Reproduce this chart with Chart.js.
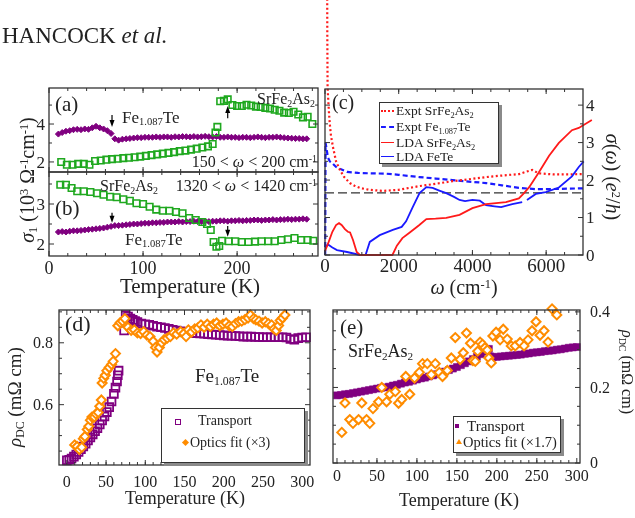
<!DOCTYPE html>
<html><head><meta charset="utf-8">
<script src="https://cdn.jsdelivr.net/npm/chart.js@4/dist/chart.umd.min.js"></script>
<style>
html,body{margin:0;padding:0;background:#fff;}
#wrap{position:relative;width:635px;height:518px;overflow:hidden;font-family:"Liberation Serif","Times New Roman",serif;color:#222;}
canvas{position:absolute;left:0;top:0;}
.t{position:absolute;white-space:nowrap;line-height:1;}
.l{transform:translateY(-50%);}
.r{transform:translate(-100%,-50%);}
.c{transform:translate(-50%,-50%);}
.ru{transform:translate(-50%,-50%) rotate(-90deg);}
.rd{transform:translate(-50%,-50%) rotate(90deg);}
.box{position:absolute;border:1.3px solid #333;background:#fff;box-shadow:3px 3px 0 #8a8a8a;}
sub{font-size:0.62em;vertical-align:-0.28em;line-height:0;}
sup{font-size:0.62em;vertical-align:0.5em;line-height:0;}
.smp{position:absolute;width:13px;height:0;}
</style></head>
<body><div id="wrap">
<canvas id="ca" width="635" height="518"></canvas>
<canvas id="cb" width="635" height="518"></canvas>
<canvas id="cc" width="635" height="518"></canvas>
<canvas id="cd" width="635" height="518"></canvas>
<canvas id="ce" width="635" height="518"></canvas>

<div class="t l" style="left:2px;top:35px;font-size:23px">HANCOCK <i>et al.</i></div>

<div class="t l" style="left:55px;top:104px;font-size:21px">(a)</div>
<div class="t l" style="left:122px;top:117px;font-size:17px">Fe<sub>1.087</sub>Te</div>
<div class="t l" style="left:257px;top:99px;font-size:16px">SrFe<sub>2</sub>As<sub>2</sub></div>
<div class="t r" style="left:317px;top:162px;font-size:16px">150 &lt; <i>ω</i> &lt; 200 cm<sup>-1</sup></div>
<div class="t l" style="left:55px;top:208px;font-size:21px">(b)</div>
<div class="t l" style="left:100px;top:186px;font-size:16px">SrFe<sub>2</sub>As<sub>2</sub></div>
<div class="t r" style="left:317px;top:186px;font-size:16px">1320 &lt; <i>ω</i> &lt; 1420 cm<sup>-1</sup></div>
<div class="t l" style="left:125px;top:239px;font-size:17px">Fe<sub>1.087</sub>Te</div>
<div class="t ru" style="left:27px;top:180px;font-size:20px"><i>σ</i><sub>1</sub> (10<sup>3</sup> Ω<sup>-1</sup>cm<sup>-1</sup>)</div>
<div class="t c" style="left:190px;top:286px;font-size:21px">Temperature (K)</div>

<div class="t l" style="left:332px;top:102px;font-size:20px">(c)</div>
<div class="t c" style="left:464px;top:287px;font-size:20px"><i>ω</i> (cm<sup>-1</sup>)</div>
<div class="t rd" style="left:613px;top:177px;font-size:20px"><i>σ</i>(<i>ω</i>) (<i>e</i><sup>2</sup>/<i>h</i>)</div>
<div class="box" style="left:379px;top:102px;width:118px;height:60px;">
  <div class="smp" style="left:1px;top:7px;border-top:2px dotted #ff1a1a"></div>
  <div class="t l" style="left:16px;top:8px;font-size:13.5px">Expt SrFe<sub>2</sub>As<sub>2</sub></div>
  <div class="smp" style="left:1px;top:23px;border-top:2px dashed #1a1aff"></div>
  <div class="t l" style="left:16px;top:24px;font-size:13.5px">Expt Fe<sub>1.087</sub>Te</div>
  <div class="smp" style="left:1px;top:39px;border-top:1.5px solid #ff1a1a"></div>
  <div class="t l" style="left:16px;top:40px;font-size:13.5px">LDA SrFe<sub>2</sub>As<sub>2</sub></div>
  <div class="smp" style="left:1px;top:53px;border-top:1.5px solid #1a1aff"></div>
  <div class="t l" style="left:16px;top:54px;font-size:13.5px">LDA FeTe</div>
</div>

<div class="t l" style="left:65px;top:324px;font-size:22px">(d)</div>
<div class="t l" style="left:195px;top:375px;font-size:19px">Fe<sub>1.087</sub>Te</div>
<div class="t ru" style="left:14px;top:397px;font-size:19px"><i>ρ</i><sub>DC</sub> (mΩ cm)</div>
<div class="t c" style="left:185px;top:498px;font-size:18px">Temperature (K)</div>
<div class="box" style="left:161px;top:408px;width:142px;height:53px;">
  <div style="position:absolute;left:13px;top:10px;width:4px;height:4px;border:1.5px solid #800080"></div>
  <div class="t l" style="left:36px;top:12px;font-size:14px">Transport</div>
  <div style="position:absolute;left:21px;top:31px;width:5px;height:5px;background:#ff8c00;transform:rotate(45deg)"></div>
  <div class="t l" style="left:28px;top:34px;font-size:14px">Optics fit (×3)</div>
</div>

<div class="t l" style="left:340px;top:327px;font-size:21px">(e)</div>
<div class="t l" style="left:348px;top:351px;font-size:18px">SrFe<sub>2</sub>As<sub>2</sub></div>
<div class="t rd" style="left:627px;top:372px;font-size:16px"><i>ρ</i><sub>DC</sub> (mΩ cm)</div>
<div class="t c" style="left:459px;top:500px;font-size:18px">Temperature (K)</div>
<div class="box" style="left:453px;top:416px;width:106px;height:35px;">
  <div style="position:absolute;left:1px;top:7px;width:4px;height:4px;background:#800080"></div>
  <div class="t l" style="left:13px;top:9px;font-size:15px">Transport</div>
  <div style="position:absolute;left:2px;top:22px;width:0;height:0;border-left:3px solid transparent;border-right:3px solid transparent;border-bottom:5px solid #ff8c00"></div>
  <div class="t l" style="left:9px;top:25px;font-size:14.5px">Optics fit (×1.7)</div>
</div>
</div>

<script>
// ---------- data ----------
// panels (a),(b): Fe1.087Te (purple)
const tempFe = [10,14,18,22,26,30,34,38,42,46,50,54,58,62,66,70,74,78,82,86,90,94,98,102,106,110,114,118,122,126,130,134,138,142,146,150,154,158,162,166,170,174,178,182,186,190,194,198,202,206,210,214,218,222,226,230,234,238,242,246,250,254,258,262,266,270,274];
const sigmaA_Fe = [3.47,3.55,3.62,3.65,3.7,3.72,3.7,3.74,3.72,3.8,3.88,3.8,3.74,3.65,3.5,3.22,3.15,3.2,3.22,3.24,3.26,3.28,3.28,3.3,3.3,3.3,3.32,3.3,3.32,3.32,3.3,3.33,3.32,3.34,3.33,3.32,3.34,3.32,3.33,3.35,3.33,3.32,3.34,3.3,3.3,3.32,3.3,3.3,3.28,3.3,3.3,3.28,3.3,3.32,3.3,3.28,3.3,3.3,3.32,3.3,3.28,3.26,3.25,3.24,3.24,3.22,3.22];
const sigmaB_Fe = [2.3,2.31,2.3,2.32,2.33,2.33,2.34,2.35,2.36,2.37,2.38,2.39,2.4,2.42,2.44,2.46,2.46,2.47,2.48,2.49,2.5,2.5,2.51,2.52,2.52,2.53,2.53,2.54,2.54,2.55,2.55,2.55,2.56,2.55,2.56,2.56,2.57,2.56,2.56,2.57,2.56,2.57,2.57,2.58,2.58,2.57,2.58,2.58,2.59,2.58,2.59,2.59,2.6,2.6,2.59,2.6,2.6,2.61,2.6,2.61,2.61,2.62,2.61,2.62,2.62,2.63,2.62];
// panel (a): SrFe2As2 (green)
const tempA_Sr = [13,19,25,31,37,43,49,55,61,67,73,79,85,91,97,103,109,115,121,127,133,139,145,151,157,163,169,174,177,179,182,186,190,195,200,205,210,215,220,225,230,235,240,245,250,255,260,265,270,275,280];
const sigmaA_Sr = [2.0,1.85,1.85,1.9,1.9,1.85,2.05,2.08,2.12,2.15,2.17,2.2,2.22,2.25,2.28,2.32,2.36,2.4,2.44,2.48,2.52,2.57,2.6,2.65,2.7,2.76,2.82,2.95,3.55,3.85,5.2,5.22,5.3,5.0,4.95,4.95,5.02,4.98,4.92,4.9,4.85,4.82,4.75,4.7,4.6,4.58,4.65,4.5,4.35,4.38,4.0];
// panel (b): SrFe2As2 (green)
const tempB_Sr = [12,18,24,30,37,44,51,58,65,72,79,86,93,100,107,114,121,128,135,142,149,156,163,168,172,175,178,181,184,191,198,205,212,219,226,233,240,247,254,261,268,275,281];
const sigmaB_Sr = [3.48,3.48,3.4,3.32,3.32,3.3,3.27,3.23,3.18,3.17,3.12,3.08,3.02,3.0,2.93,2.86,2.83,2.83,2.8,2.77,2.65,2.6,2.55,2.5,2.35,2.05,1.93,1.95,2.08,2.07,2.07,2.05,2.05,2.06,2.07,2.07,2.07,2.1,2.12,2.15,2.1,2.1,2.08];

// panel (c): sigma(omega)
const wExptSr = [55,62,70,90,108,130,160,216,300,405,520,675,800,945,1200,1570,2000,2570,3000,3460,3900,4370,4800,5270,5450,5620,5800,6200,6600,7000,7500,7950];
const sExptSr = [9,6,4.5,4.1,3.8,3.5,3.2,2.88,2.5,2.27,2.08,1.92,1.85,1.79,1.74,1.71,1.74,1.84,1.9,1.97,2.02,2.08,2.12,2.16,2.22,2.27,2.18,2.15,2.15,2.16,2.16,2.16];
const wExptFe = [5,15,40,80,130,200,300,400,600,900,1200,1660,2000,2560,3000,3460,3900,4370,4800,5260,5700,6160,6600,7000,7500,7950];
const sExptFe = [0,3.0,2.85,2.6,2.5,2.45,2.35,2.3,2.22,2.19,2.18,2.17,2.14,2.08,2.04,2.0,1.96,1.92,1.86,1.79,1.76,1.76,1.77,1.78,1.78,1.78];
const wLdaSr = [0,100,200,300,380,450,540,620,680,760,860,945,1830,1950,2100,2300,2560,2750,3000,3290,3650,4000,4370,4910,5260,5400,5540,5800,6080,6345,6700,6885,7240,7500,7640,7910];
const sLdaSr = [0.1,0.35,0.62,0.8,0.85,0.8,0.69,0.62,0.6,0.4,0.08,0,0,0.25,0.45,0.6,0.8,0.96,0.97,0.99,1.07,1.25,1.36,1.41,1.51,1.65,1.81,2.2,2.65,2.99,3.33,3.39,3.6,3.92,4.19,4.32];
const wLdaFe = [0,80,200,325,600,945,1100,1215,1485,1840,2080,2200,2380,2565,2750,2920,3100,3290,3500,3650,3800,4000,4200,4370,4600,4780,5080,5350,5420,5480,5720,5990,6345,6700,6885,7020,7240,7480,7610,7700];
const sLdaFe = [0.2,0.28,0.2,0.13,0.08,0,0,0.35,0.53,0.67,0.75,0.9,1.28,1.65,1.81,1.79,1.72,1.65,1.55,1.47,1.44,1.47,1.45,1.33,1.3,1.28,1.36,1.41,null,1.47,1.63,1.68,1.8,2.1,2.35,2.5,2.6,2.82,2.98,3.06];
const wRef = [0,7000];
const sRef = [1.66,1.66];

// panel (d): Fe1.087Te resistivity
const tempD_Tr = [0,3,6,9,12,15,18,21,24,27,30,33,36,39,42,45,48,51,54,57,60,62,64,65,66,73,75,78,81,84,87,90,95,100,105,110,115,120,125,130,135,140,145,150,155,160,165,170,175,180,185,190,195,200,205,210,215,220,225,230,235,240,245,250,255,260,265,270,275,280,285,290,295,300,305];
const rhoD_Tr = [0.42,0.422,0.426,0.432,0.439,0.447,0.456,0.465,0.474,0.484,0.494,0.504,0.514,0.524,0.536,0.549,0.562,0.576,0.592,0.61,0.635,0.655,0.675,0.695,0.71,0.84,0.89,0.885,0.878,0.874,0.87,0.867,0.862,0.86,0.858,0.855,0.852,0.85,0.848,0.845,0.842,0.84,0.837,0.835,0.833,0.832,0.831,0.83,0.829,0.828,0.827,0.826,0.825,0.824,0.823,0.823,0.822,0.821,0.82,0.82,0.82,0.819,0.819,0.818,0.818,0.818,0.818,0.818,0.818,0.817,0.812,0.81,0.815,0.817,0.818];
const tempD_Op = [10,13,16,19,21,23,26,28,30,32,35,37,40,42,44,45,47,49,51,54,57,59,62,65,68,71,74,78,82,86,90,94,98,102,106,110,113,115,118,121,124,128,132,136,140,145,149,152,155,159,163,167,171,175,179,183,187,191,195,199,203,207,211,215,219,223,227,231,234,238,241,245,249,253,257,261,264,267,270,272,275,278];
const rhoD_Op = [0.47,0.465,0.455,0.462,0.49,0.497,0.52,0.53,0.55,0.56,0.56,0.57,0.575,0.595,0.615,0.67,0.685,0.695,0.71,0.72,0.73,0.74,0.765,0.855,0.865,0.87,0.878,0.85,0.84,0.842,0.832,0.83,0.836,0.825,0.82,0.805,0.785,0.77,0.785,0.8,0.81,0.815,0.82,0.832,0.828,0.836,0.83,0.82,0.842,0.835,0.845,0.848,0.858,0.85,0.86,0.852,0.86,0.864,0.855,0.86,0.864,0.855,0.852,0.862,0.868,0.87,0.875,0.88,0.89,0.878,0.874,0.87,0.864,0.868,0.862,0.858,0.845,0.84,0.856,0.872,0.88,0.89];

// panel (e): SrFe2As2 resistivity
const tempE_Tr = [0,5,10,15,20,25,30,35,40,45,50,55,60,65,70,75,80,85,90,95,100,105,110,115,120,125,130,135,140,145,150,155,160,165,170,175,180,185,188,190,192,195,200,205,210,215,220,225,230,235,240,245,250,255,260,265,270,275,280,285,290,295,300];
const rhoE_Tr = [0.179,0.18,0.182,0.183,0.185,0.187,0.189,0.191,0.193,0.195,0.197,0.199,0.2,0.202,0.205,0.207,0.21,0.213,0.215,0.218,0.221,0.224,0.226,0.229,0.232,0.235,0.238,0.242,0.246,0.25,0.254,0.259,0.264,0.269,0.275,0.281,0.288,0.295,0.3,0.302,0.282,0.28,0.281,0.282,0.283,0.284,0.285,0.286,0.287,0.289,0.29,0.292,0.293,0.294,0.296,0.297,0.298,0.3,0.301,0.303,0.305,0.306,0.307];
const tempE_Op = [6,10,16,20,27,31,37,41,45,52,56,62,66,73,77,81,86,91,97,103,107,113,118,123,128,132,138,143,148,154,158,162,167,170,173,176,179,182,185,188,190,193,195,199,204,208,213,218,223,229,234,239,244,249,254,259,264,269,275];
const rhoE_Op = [0.081,0.159,0.115,0.105,0.115,0.159,0.115,0.105,0.144,0.162,0.2,0.162,0.182,0.189,0.158,0.168,0.229,0.182,0.225,0.24,0.263,0.263,0.234,0.263,0.24,0.229,0.245,0.278,0.332,0.274,0.292,0.344,0.317,0.271,0.269,0.296,0.32,0.314,0.305,0.299,0.278,0.265,0.336,0.346,0.326,0.354,0.328,0.31,0.31,0.319,0.31,0.326,0.35,0.374,0.338,0.35,0.32,0.408,0.392];

// tick labels
const ticksAB_x = [0,100,200];
const ticksA_y = [2,4];
const ticksB_y = [2,3];
const ticksC_x = [0,2000,4000,6000];
const ticksC_y = [0,1,2,3,4];
const ticksD_x = [0,50,100,150,200,250,300];
const ticksD_y = [0.6,0.8];
const ticksE_x = [0,50,100,150,200,250,300];
const ticksE_y = [0,0.2,0.4];

// ---------- drawing ----------
const FONT = '"Liberation Serif","Times New Roman",serif';
const PURPLE = '#800080', GREEN = '#1fa81f', ORANGE = '#ff8c00', RED = '#ff1a1a', BLUE = '#1a1aff';

function range(a, b, s) { const r = []; for (let v = a; v <= b + 1e-9; v += s) r.push(+v.toFixed(6)); return r; }
function pts(xs, ys) { return xs.map((x, i) => ({ x: x, y: ys[i] })); }
function markers(xs, ys, style, r, fill, stroke, bw) {
  return { data: pts(xs, ys), showLine: false, pointStyle: style, pointRadius: r, pointHoverRadius: r,
    pointBackgroundColor: fill, pointBorderColor: stroke, pointBorderWidth: bw,
    backgroundColor: fill, borderColor: stroke, clip: false };
}
function curve(xs, ys, color, width, dash) {
  return { data: pts(xs, ys), showLine: true, pointRadius: 0, borderColor: color, borderWidth: width,
    borderDash: dash || [], clip: false, spanGaps: false, tension: 0, backgroundColor: color };
}
function axis(pos, min, max, labels, fixed) {
  return {
    type: 'linear', position: pos, min: min, max: max,
    grid: { display: false }, border: { display: false },
    ticks: { display: false },
    afterBuildTicks: s => { s.ticks = labels.map(v => ({ value: v })); },
    afterFit: s => { if (pos === 'left' || pos === 'right') s.width = fixed; else s.height = fixed; }
  };
}
const framePlugin = {
  id: 'frame',
  afterDatasetsDraw(chart, args, o) {
    const ctx = chart.ctx, a = chart.chartArea, xs = chart.scales.x, ys = chart.scales.y;
    ctx.save();
    ctx.strokeStyle = '#333'; ctx.lineWidth = 1;
    const tick = (vals, len, horiz) => vals.forEach(v => {
      ctx.beginPath();
      if (horiz) {
        const p = xs.getPixelForValue(v);
        ctx.moveTo(p, a.bottom); ctx.lineTo(p, a.bottom - len);
        ctx.moveTo(p, a.top); ctx.lineTo(p, a.top + len);
      } else {
        const p = ys.getPixelForValue(v);
        ctx.moveTo(a.left, p); ctx.lineTo(a.left + len, p);
        ctx.moveTo(a.right, p); ctx.lineTo(a.right - len, p);
      }
      ctx.stroke();
    });
    tick(o.xMajor, 5, true); tick(o.xMinor, 3, true); tick(o.yMajor, 5, false); tick(o.yMinor, 3, false);
    ctx.lineWidth = 1.3; ctx.strokeStyle = '#333';
    ctx.strokeRect(a.left, a.top, a.right - a.left, a.bottom - a.top);
    (o.arrows || []).forEach(ar => {
      const px = xs.getPixelForValue(ar[0]), p0 = ys.getPixelForValue(ar[1]), p1 = ys.getPixelForValue(ar[2]);
      const dir = p1 > p0 ? 1 : -1;
      ctx.strokeStyle = '#000'; ctx.fillStyle = '#000'; ctx.lineWidth = 1.2;
      ctx.beginPath(); ctx.moveTo(px, p0); ctx.lineTo(px, p1 - dir * 5); ctx.stroke();
      ctx.beginPath(); ctx.moveTo(px, p1); ctx.lineTo(px - 2.5, p1 - dir * 7); ctx.lineTo(px + 2.5, p1 - dir * 7); ctx.closePath(); ctx.fill();
    });
    // tick labels
    ctx.fillStyle = '#222'; ctx.textBaseline = 'alphabetic';
    if (o.xLab) {
      ctx.font = o.xLab.size + 'px ' + FONT; ctx.textAlign = 'center';
      o.xLab.vals.forEach(v => ctx.fillText(String(v), xs.getPixelForValue(v), a.bottom + o.xLab.off + 0.33 * o.xLab.size));
    }
    if (o.yLab) {
      ctx.font = o.yLab.size + 'px ' + FONT;
      const left = o.yLab.side === 'left';
      ctx.textAlign = left ? 'right' : 'left';
      const x = left ? a.left - o.yLab.off : a.right + o.yLab.off;
      o.yLab.vals.forEach(v => ctx.fillText(String(v), x, ys.getPixelForValue(v) + 0.33 * o.yLab.size));
    }
    ctx.restore();
  }
};
function options(pad, scales, frame) {
  return { responsive: false, animation: false, devicePixelRatio: 1, events: [],
    layout: { autoPadding: false, padding: pad },
    plugins: { legend: { display: false }, tooltip: { enabled: false }, frame: frame },
    scales: scales };
}
function make(id, datasets, opts) {
  return new Chart(document.getElementById(id), { type: 'scatter', data: { datasets: datasets }, options: opts, plugins: [framePlugin] });
}

// (a)
make('ca', [
  markers(tempA_Sr, sigmaA_Sr, 'rect', 4.6, 'rgba(0,0,0,0)', GREEN, 1.6),
  markers(tempFe, sigmaA_Fe, 'rectRot', 3, PURPLE, PURPLE, 1)
], options({ left: 19, top: 88, right: 317, bottom: 346 },
  { x: axis('bottom', 0, 286, ticksAB_x, 0), y: axis('left', 1.47, 5.9, ticksA_y, 30) },
  { xMajor: ticksAB_x, xMinor: range(20, 280, 20), yMajor: ticksA_y, yMinor: [3, 5],
    yLab: { vals: ticksA_y, size: 17, off: 4, side: 'left' },
    arrows: [[67, 4.47, 3.84], [190, 4.3, 4.95]] }));

// (b)
make('cb', [
  markers(tempB_Sr, sigmaB_Sr, 'rect', 4.6, 'rgba(0,0,0,0)', GREEN, 1.6),
  markers(tempFe, sigmaB_Fe, 'rectRot', 3, PURPLE, PURPLE, 1)
], options({ left: 19, top: 172, right: 317, bottom: 236 },
  { x: axis('bottom', 0, 286, ticksAB_x, 26), y: axis('left', 1.7, 3.8, ticksB_y, 30) },
  { xMajor: ticksAB_x, xMinor: range(20, 280, 20), yMajor: ticksB_y, yMinor: [2.5, 3.5],
    xLab: { vals: ticksAB_x, size: 18, off: 12 },
    yLab: { vals: ticksB_y, size: 17, off: 4, side: 'left' },
    arrows: [[67, 2.78, 2.53], [190, 2.45, 2.18]] }));

// (c)
make('cc', [
  curve(wLdaSr, sLdaSr, RED, 1.8),
  curve(wLdaFe, sLdaFe, BLUE, 1.8),
  curve(wExptSr, sExptSr, RED, 2.2, [2, 2.5]),
  curve(wExptFe, sExptFe, BLUE, 2.2, [5, 3]),
  curve(wRef, sRef, '#333', 1.2, [9, 4])
], options({ left: 325, top: 89, right: 22, bottom: 237 },
  { x: axis('bottom', 0, 7000, ticksC_x, 26), y: axis('right', 0, 4.43, ticksC_y, 30) },
  { xMajor: ticksC_x, xMinor: range(500, 6500, 500), yMajor: ticksC_y, yMinor: range(0.5, 4, 1),
    xLab: { vals: ticksC_x, size: 19, off: 11 },
    yLab: { vals: ticksC_y, size: 17, off: 3, side: 'right' } }));

// (d)
make('cd', [
  markers(tempD_Op, rhoD_Op, 'rectRot', 4.5, '#fff', ORANGE, 2),
  markers(tempD_Tr, rhoD_Tr, 'rect', 5.5, 'rgba(0,0,0,0)', PURPLE, 1.8)
], options({ left: 19, top: 310, right: 325, bottom: 23 },
  { x: axis('bottom', -10, 310, ticksD_x, 30), y: axis('left', 0.405, 0.906, ticksD_y, 40) },
  { xMajor: ticksD_x, xMinor: range(10, 290, 10), yMajor: ticksD_y, yMinor: [0.45, 0.5, 0.55, 0.65, 0.7, 0.75, 0.85, 0.9],
    xLab: { vals: ticksD_x, size: 16, off: 17 },
    yLab: { vals: ticksD_y, size: 16, off: 6, side: 'left' } }));

// (e)
make('ce', [
  markers(tempE_Op, rhoE_Op, 'rectRot', 4.5, '#fff', ORANGE, 2),
  markers(tempE_Tr, rhoE_Tr, 'rect', 5, PURPLE, PURPLE, 0.5)
], options({ left: 333, top: 310, right: 15, bottom: 25 },
  { x: axis('bottom', -5, 304, ticksE_x, 30), y: axis('right', 0, 0.405, ticksE_y, 40) },
  { xMajor: ticksE_x, xMinor: range(10, 290, 10), yMajor: ticksE_y, yMinor: [0.05, 0.1, 0.15, 0.25, 0.3, 0.35],
    xLab: { vals: ticksE_x, size: 16, off: 13 },
    yLab: { vals: ticksE_y, size: 16, off: 10, side: 'right' } }));
</script>
</body></html>
